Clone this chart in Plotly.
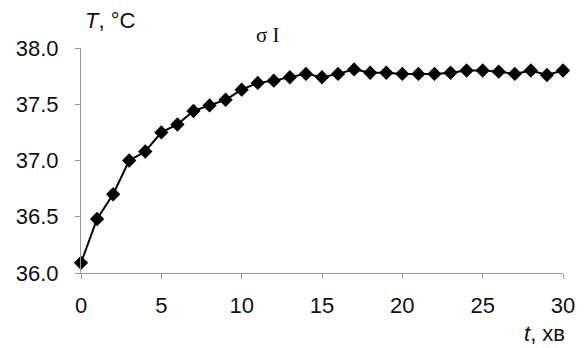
import plotly.graph_objects as go

t_min = list(range(0, 31))
temp_c = [36.09, 36.48, 36.70, 37.00, 37.08, 37.25, 37.32, 37.44, 37.49, 37.54,
          37.63, 37.69, 37.71, 37.74, 37.77, 37.74, 37.77, 37.81, 37.78, 37.78,
          37.77, 37.77, 37.77, 37.78, 37.80, 37.80, 37.79, 37.77, 37.80, 37.76, 37.80]
x_ticks = [0, 5, 10, 15, 20, 25, 30]
y_ticks = [36.0, 36.5, 37.0, 37.5, 38.0]

fig = go.Figure()
fig.add_trace(go.Scatter(
    x=t_min, y=temp_c, mode="lines+markers",
    line=dict(color="black", width=2),
    marker=dict(symbol="diamond", size=11, color="black"),
    cliponaxis=False, showlegend=False,
))

axis_font = dict(family="Liberation Sans, Arial, sans-serif", size=22, color="#111")
fig.update_layout(
    width=586, height=348,
    margin=dict(l=81, r=23, t=48, b=75),
    paper_bgcolor="white", plot_bgcolor="white",
    xaxis=dict(range=[0, 30], tickvals=x_ticks, ticks="outside", ticklen=5,
               tickcolor="#999", showline=True, linecolor="#999", linewidth=1,
               showgrid=False, zeroline=False, tickfont=axis_font,
               ticklabelstandoff=8),
    yaxis=dict(range=[36.0, 38.0], tickvals=y_ticks, tickformat=".1f",
               ticks="outside", ticklen=5, tickcolor="#999", showline=True,
               linecolor="#999", linewidth=1, showgrid=False, zeroline=False,
               tickfont=axis_font, ticklabelstandoff=12),
    annotations=[
        dict(text="<i>T</i>, °C", xref="paper", yref="paper", x=0.004, y=1.124,
             xanchor="left", yanchor="middle", showarrow=False, font=axis_font),
        dict(text="σ I", xref="paper", yref="paper", x=0.388, y=1.058,
             xanchor="center", yanchor="middle", showarrow=False,
             font=dict(family="Liberation Serif, Times New Roman, serif", size=21, color="#111")),
        dict(text="<i>t</i>, хв", xref="paper", yref="paper", x=1.008, y=-0.267,
             xanchor="right", yanchor="middle", showarrow=False, font=axis_font),
    ],
)
fig.write_html("out.html", config={"displayModeBar": False},
               post_script="document.body.style.margin='0';document.body.style.overflow='hidden';")
